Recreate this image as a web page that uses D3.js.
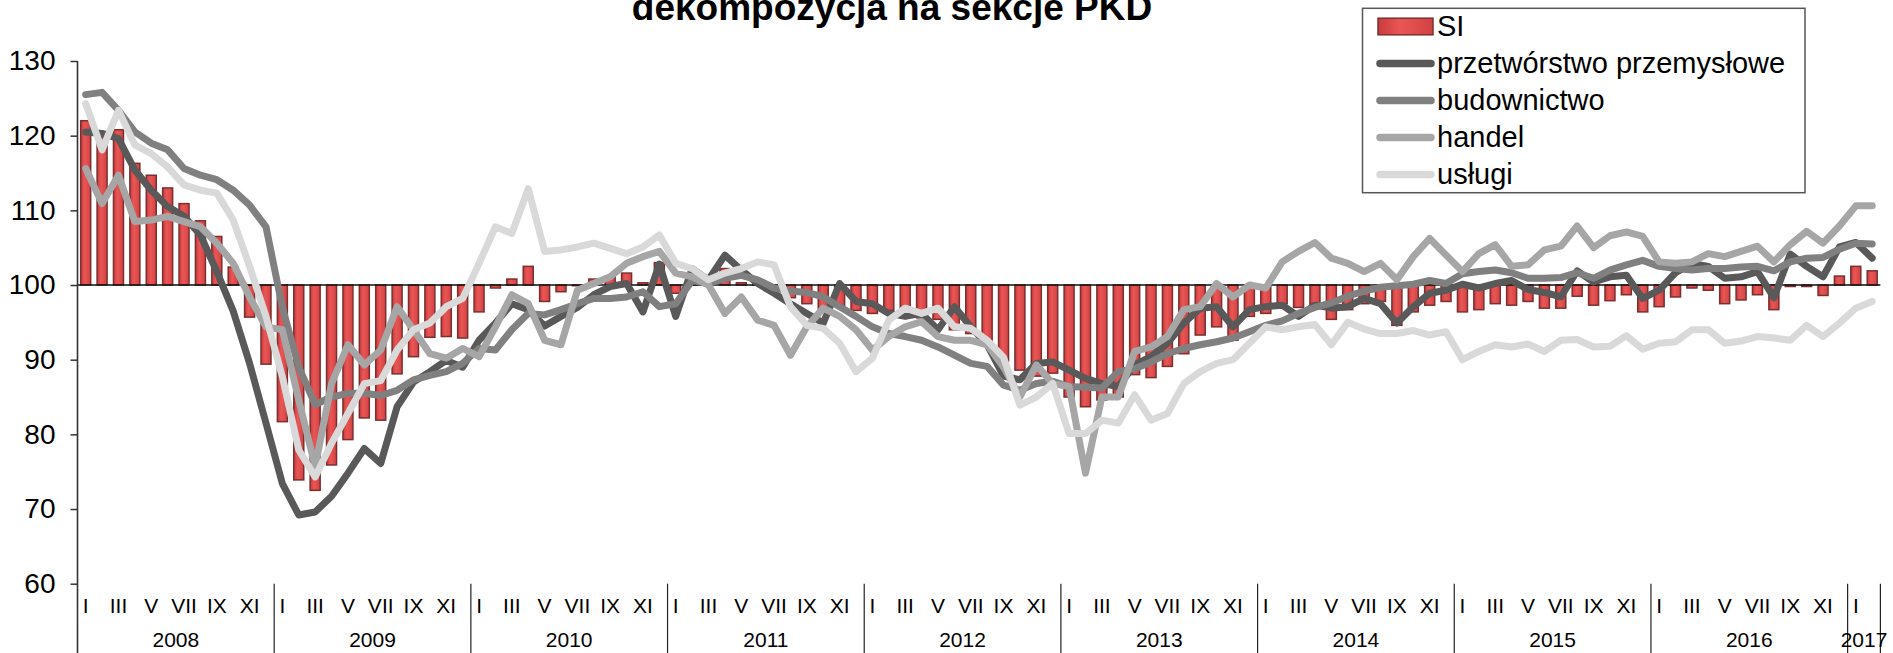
<!DOCTYPE html>
<html>
<head>
<meta charset="utf-8">
<script src="https://cdn.jsdelivr.net/npm/d3@7"></script>
<style>
  body { margin: 0; background: #fff; }
  text { font-family: "Liberation Sans", Arial, sans-serif; fill: #000; }
</style>
</head>
<body>
<svg id="chart" width="1893" height="653"></svg>
<script>
// Monthly indicators, I 2008 – II 2017
const monthNames = ["I","II","III","IV","V","VI","VII","VIII","IX","X","XI","XII"];
const years = ["2008","2009","2010","2011","2012","2013","2014","2015","2016","2017"];
const yTicks = [60, 70, 80, 90, 100, 110, 120, 130];
const baseline = 100;

const SI = [
  122.0, 119.8, 120.8, 116.3, 114.7, 113.0, 110.9, 108.6, 106.5, 102.4, 95.7, 89.4,
  81.7, 73.9, 72.5, 75.9, 79.3, 82.2, 81.9, 88.1, 90.4, 93.0, 93.1, 92.9,
  96.4, 99.6, 100.8, 102.5, 97.8, 99.1, 99.9, 100.8, 101.2, 101.6, 100.3, 103.0,
  98.9, 100.8, 100.6, 102.2, 100.3, 100.1, 99.9, 98.3, 97.5, 96.8, 97.2, 96.6,
  96.2, 96.6, 96.0, 95.6, 95.4, 94.0, 93.5, 92.6, 89.8, 88.6, 87.8, 88.2,
  85.0, 83.7, 84.6, 85.0, 88.0, 87.6, 89.1, 90.8, 93.3, 94.4, 92.6, 95.8,
  96.2, 97.5, 97.0, 97.3, 95.4, 96.7, 97.5, 97.8, 94.6, 96.4, 97.3, 97.8,
  96.4, 96.7, 97.5, 97.3, 97.8, 96.9, 96.9, 98.5, 97.3, 97.9, 98.7, 96.4,
  97.1, 98.4, 99.6, 99.3, 97.5, 98.0, 98.7, 96.7, 99.8, 99.8, 98.6, 101.2,
  102.5, 101.9
];

const przetworstwo = [
  120.5, 120.3, 119.6, 115.4, 112.7, 110.5, 109.2, 106.7, 101.8, 96.5, 89.5, 81.5,
  73.4, 69.2, 69.6, 71.7, 74.8, 78.1, 76.1, 83.7, 87.0, 88.4, 89.9, 89.0,
  92.6, 94.9, 97.5, 96.7, 94.5, 95.8, 97.0, 98.7, 99.8, 100.2, 96.4, 102.8,
  95.8, 102.2, 100.7, 104.0, 102.0, 100.2, 98.9, 97.5, 96.2, 94.9, 100.2, 97.8,
  97.5, 96.2, 95.8, 96.2, 94.0, 97.1, 94.4, 92.0, 87.8, 87.3, 89.5, 89.7,
  88.6, 87.5, 86.8, 86.4, 89.3, 90.4, 92.2, 94.9, 96.9, 97.1, 94.4, 96.7,
  97.1, 97.3, 95.8, 97.3, 96.9, 97.1, 98.2, 97.5, 94.9, 97.1, 98.9, 99.3,
  100.1, 99.6, 100.2, 100.6, 99.4, 99.0, 98.4, 101.9, 100.4, 101.1, 101.3, 98.2,
  99.3, 101.65, 102.9, 102.5, 100.9, 101.1, 101.8, 98.3, 104.15, 102.5, 101.1, 105.1,
  105.7, 103.6
];

const budownictwo = [
  125.5, 125.8, 123.4, 120.5, 119.0, 118.1, 115.6, 114.7, 114.1, 112.7, 110.7, 107.8,
  97.0, 89.0, 84.0, 85.0, 85.5, 85.5, 85.2, 85.9, 87.3, 87.9, 88.4, 89.5,
  91.5, 91.3, 94.0, 96.2, 96.0, 96.7, 97.5, 98.2, 98.2, 98.4, 99.1, 97.1,
  97.5, 100.6, 100.2, 100.9, 101.3, 100.7, 99.6, 99.2, 99.0, 98.4, 97.1, 95.8,
  94.4, 93.5, 93.1, 92.6, 91.7, 90.6, 89.5, 89.1, 86.6, 85.9, 86.8, 87.1,
  86.4, 86.3, 86.2, 88.4, 88.8, 89.7, 90.8, 91.5, 92.0, 92.4, 92.9, 93.75,
  94.6, 95.2, 96.2, 97.0, 97.6, 98.5, 99.2, 99.7, 99.9, 100.1, 100.6, 100.2,
  101.5, 101.8, 102.0, 101.65, 100.9, 100.9, 101.0, 101.65, 100.9, 102.0, 102.7, 103.3,
  102.5, 102.2, 102.0, 102.2, 102.2, 102.4, 102.5, 101.9, 103.1, 103.6, 103.7, 104.8,
  105.6, 105.5
];

const handel = [
  115.6, 110.9, 114.7, 108.5, 108.7, 109.2, 108.5, 107.8, 105.6, 102.9, 98.4, 94.4,
  94.0, 84.6, 75.7, 86.8, 92.0, 89.3, 91.3, 97.1, 94.0, 90.8, 90.2, 91.5,
  90.4, 94.4, 98.7, 97.5, 92.6, 92.0, 99.3, 100.2, 101.1, 102.9, 103.8, 104.5,
  101.6, 101.1, 100.0, 96.2, 98.4, 95.3, 94.6, 90.6, 94.4, 96.9, 95.8, 94.0,
  91.3, 93.1, 94.4, 95.1, 93.1, 92.6, 92.6, 92.0, 89.0, 85.0, 89.3, 86.8,
  86.4, 74.8, 85.0, 85.0, 91.1, 91.7, 93.1, 96.7, 97.1, 100.2, 98.4, 100.0,
  99.6, 103.1, 104.5, 105.7, 103.6, 102.9, 101.8, 102.9, 100.7, 103.8, 106.25, 104.0,
  101.8, 104.2, 105.4, 102.5, 102.7, 104.7, 105.2, 107.9, 105.0, 106.6, 107.1, 106.5,
  103.1, 102.9, 103.1, 104.2, 103.8, 104.5, 105.2, 103.1, 105.4, 107.2, 105.6, 107.9,
  110.6, 110.6
];

const uslugi = [
  124.3, 118.1, 123.4, 118.75, 117.6, 115.8, 113.4, 112.7, 112.3, 108.7, 102.5, 95.8,
  87.7, 77.9, 74.3, 78.8, 82.8, 86.8, 87.2, 91.3, 94.0, 94.9, 97.1, 98.2,
  102.9, 107.8, 106.9, 112.9, 104.5, 104.7, 105.1, 105.6, 104.9, 104.2, 105.1, 106.7,
  102.9, 102.2, 100.7, 101.6, 102.2, 103.1, 102.7, 97.1, 94.6, 94.2, 92.2, 88.4,
  90.2, 95.3, 96.9, 96.2, 96.9, 94.4, 94.2, 92.6, 90.3, 83.9, 85.0, 86.8,
  80.1, 80.1, 81.9, 81.5, 85.3, 81.9, 82.8, 86.8, 88.4, 89.5, 90.0, 92.2,
  94.4, 94.0, 94.4, 94.7, 92.0, 95.0, 94.1, 93.5, 93.5, 93.9, 93.3, 93.75,
  90.0, 91.1, 92.0, 91.7, 92.1, 91.1, 92.6, 92.7, 91.7, 91.8, 93.2, 91.4,
  92.2, 92.4, 94.0, 94.0, 92.2, 92.5, 93.1, 92.9, 92.6, 94.6, 93.1, 94.9,
  96.9, 97.8
];

const lineSeries = [
  { name: "przetwórstwo przemysłowe", values: przetworstwo, color: "#595959" },
  { name: "budownictwo", values: budownictwo, color: "#808080" },
  { name: "handel", values: handel, color: "#a6a6a6" },
  { name: "usługi", values: uslugi, color: "#d9d9d9" }
];

const svg = d3.select("#chart");
const W = 1893, H = 653;
svg.append("rect").attr("width", W).attr("height", H).attr("fill", "#fff");

const months = d3.range(SI.length);
const x = d3.scaleBand().domain(months).range([77.5, 1880.4])
  .paddingInner(0.39).paddingOuter(0.195);
const y = d3.scaleLinear().domain([60, 130]).range([583.7, 61]);
const cx = i => x(i) + x.bandwidth() / 2;
const edge = i => x(i) - x.step() * x.paddingInner() / 2;

// bar fill: soft horizontal shading
const defs = svg.append("defs");
const grad = defs.append("linearGradient").attr("id", "barFill")
  .attr("x1", "0").attr("x2", "1").attr("y1", "0").attr("y2", "0");
grad.append("stop").attr("offset", "0%").attr("stop-color", "#c93b3b");
grad.append("stop").attr("offset", "40%").attr("stop-color", "#ea5656");
grad.append("stop").attr("offset", "100%").attr("stop-color", "#d24242");

// title (sits against the top edge of the canvas)
svg.append("text").attr("x", 892).attr("y", 19.5)
  .attr("text-anchor", "middle").attr("font-size", 37).attr("font-weight", "bold")
  .text("dekompozycja na sekcje PKD");

// bars
svg.append("g").selectAll("rect").data(months).join("rect")
  .attr("x", i => x(i))
  .attr("width", x.bandwidth())
  .attr("y", i => y(Math.max(SI[i], baseline)))
  .attr("height", i => Math.abs(y(SI[i]) - y(baseline)))
  .attr("fill", "url(#barFill)")
  .attr("stroke", "#7a3030")
  .attr("stroke-width", 1.5);

// reference line at 100
svg.append("line")
  .attr("x1", x.range()[0]).attr("x2", x.range()[1])
  .attr("y1", y(baseline)).attr("y2", y(baseline))
  .attr("stroke", "#111").attr("stroke-width", 1.6);

// lines
const line = d3.line().x((d, i) => cx(i)).y(d => y(d));
svg.append("g").selectAll("path").data(lineSeries).join("path")
  .attr("d", d => line(d.values))
  .attr("fill", "none")
  .attr("stroke", d => d.color)
  .attr("stroke-width", 7)
  .attr("stroke-linejoin", "round")
  .attr("stroke-linecap", "round");

// y axis
const yAxis = d3.axisLeft(y).tickValues(yTicks).tickSize(7).tickSizeOuter(0).tickPadding(15);
const gy = svg.append("g").attr("transform", `translate(${x.range()[0]},0)`).call(yAxis);
gy.select(".domain").remove();
gy.selectAll(".tick line").attr("stroke", "#333").attr("stroke-width", 1.5);
gy.selectAll(".tick text").attr("font-size", 28).attr("font-family", "Liberation Sans, Arial, sans-serif").attr("fill", "#000");
svg.append("line")
  .attr("x1", x.range()[0]).attr("x2", x.range()[0])
  .attr("y1", y(130)).attr("y2", H)
  .attr("stroke", "#333").attr("stroke-width", 1.6);

// month labels
const xAxis = d3.axisBottom(x)
  .tickValues(months.filter(i => i % 2 === 0))
  .tickFormat(i => monthNames[i % 12])
  .tickSize(0).tickPadding(14);
const gx = svg.append("g").attr("transform", `translate(0,${y(60)})`).call(xAxis);
gx.select(".domain").remove();
gx.selectAll(".tick text").attr("font-size", 21).attr("font-family", "Liberation Sans, Arial, sans-serif").attr("fill", "#000");

// year separators and labels
const yearStarts = years.map((yr, k) => k * 12);
const boundaries = yearStarts.slice(1).map(i => edge(i)).concat([x.range()[1]]);
svg.append("g").selectAll("line").data(boundaries).join("line")
  .attr("x1", d => d).attr("x2", d => d)
  .attr("y1", y(60)).attr("y2", H)
  .attr("stroke", "#222").attr("stroke-width", 1.2);

svg.append("g").selectAll("text").data(years).join("text")
  .attr("x", (yr, k) => {
    const first = k * 12;
    const last = Math.min(first + 11, months.length - 1);
    return (cx(first) + cx(last)) / 2;
  })
  .attr("y", 647)
  .attr("text-anchor", "middle")
  .attr("font-size", 21)
  .text(d => d);

// legend
const lg = svg.append("g");
lg.append("rect").attr("x", 1362.5).attr("y", 8.3).attr("width", 442.5).attr("height", 184.4)
  .attr("fill", "#fff").attr("stroke", "#555").attr("stroke-width", 1.5);
const rowY = k => 26.5 + 37 * k;
lg.append("rect").attr("x", 1378).attr("y", rowY(0) - 8.3).attr("width", 55).attr("height", 16.6)
  .attr("fill", "url(#barFill)").attr("stroke", "#7a3030").attr("stroke-width", 1.5);
lg.append("text").attr("x", 1437).attr("y", rowY(0) + 9.5).attr("font-size", 29).text("SI");
const items = lg.selectAll("g.item").data(lineSeries).join("g").attr("class", "item");
items.append("line")
  .attr("x1", 1380).attr("x2", 1431)
  .attr("y1", (d, k) => rowY(k + 1)).attr("y2", (d, k) => rowY(k + 1))
  .attr("stroke", d => d.color).attr("stroke-width", 7.5).attr("stroke-linecap", "round");
items.append("text")
  .attr("x", 1437).attr("y", (d, k) => rowY(k + 1) + 9.5)
  .attr("font-size", 29).text(d => d.name);
</script>
</body>
</html>
